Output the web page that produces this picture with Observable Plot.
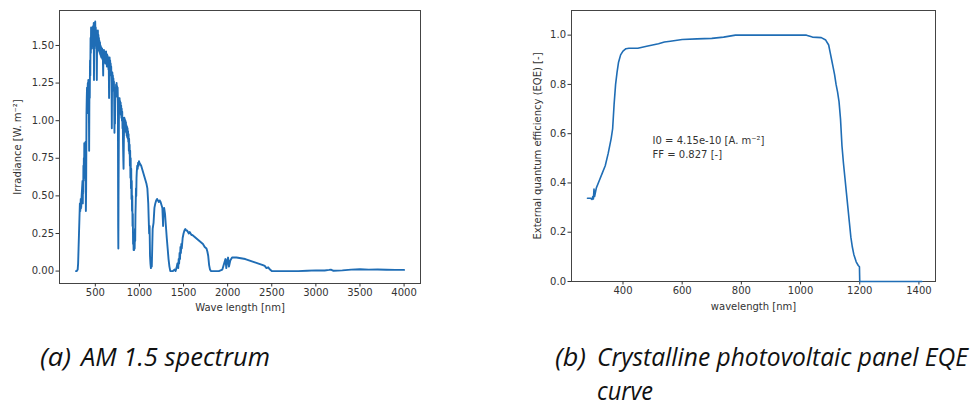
<!DOCTYPE html>
<html>
<head>
<meta charset="utf-8">
<script src="https://cdn.jsdelivr.net/npm/d3@7"></script>
<script src="https://cdn.jsdelivr.net/npm/@observablehq/plot@0.6"></script>
<style>
  html, body { margin: 0; padding: 0; background: #fff; }
  #wrap { position: relative; width: 971px; height: 408px; background: #fff; overflow: hidden; }
  .panel { position: absolute; top: 0; }
  .cap { position: absolute; font-family: "Open Sans", "Noto Sans", sans-serif; font-style: italic; font-size: 26px; color: #111; white-space: nowrap; line-height: 1; transform-origin: 0 50%; }
</style>
</head>
<body>
<div id="wrap">
  <div id="pa" class="panel" style="left:0px"></div>
  <div id="pb" class="panel" style="left:520px"></div>
  <div class="cap" data-w="31" style="left:40px; top:343px">(a)</div>
  <div class="cap" data-w="189" style="left:81px; top:343px">AM 1.5 spectrum</div>
  <div class="cap" data-w="31" style="left:555px; top:343px">(b)</div>
  <div class="cap" data-w="371" style="left:597px; top:343px">Crystalline photovoltaic panel EQE</div>
  <div class="cap" data-w="56" style="left:597px; top:377px">curve</div>
</div>
<script>
// ---- (a) AM 1.5 spectrum ----
const spectrumNm = [280,290,300,305,310,315,320,325,330,335,340,345,350,355,358,360,363,365,368,370,373,375,378,380,383,385,388,390,393,396,400,403,406,409,412,415,418,421,424,427,430,432,434,437,440,443,446,449,452,455,458,461,464,467,470,473,476,479,482,485,487,490,493,496,499,502,505,508,511,514,517,520,523,526,529,532,535,538,541,544,547,550,553,556,559,562,565,568,571,574,577,580,583,586,589,592,595,598,601,604,607,610,613,616,619,622,625,628,631,634,637,640,643,646,649,652,656,659,662,665,668,671,674,677,680,684,687,690,693,696,699,702,705,708,711,714,717,720,723,726,729,732,735,738,741,744,747,750,753,756,759,761,763,766,769,772,775,778,781,784,787,790,793,796,799,802,805,808,811,814,817,820,823,826,829,832,835,838,841,844,847,850,853,856,859,862,865,868,871,874,877,880,883,886,889,892,895,898,901,904,907,910,913,916,919,922,925,928,931,934,937,940,943,946,949,952,955,958,961,964,967,970,975,980,985,990,995,1000,1010,1020,1030,1040,1050,1060,1070,1080,1090,1100,1105,1110,1115,1120,1125,1130,1135,1140,1145,1150,1160,1170,1180,1190,1200,1210,1220,1230,1240,1250,1260,1265,1268,1272,1280,1290,1300,1310,1320,1330,1340,1350,1360,1380,1400,1410,1420,1430,1440,1445,1450,1455,1460,1465,1470,1475,1480,1490,1500,1510,1520,1530,1540,1550,1560,1570,1580,1590,1600,1620,1640,1660,1680,1700,1720,1740,1760,1770,1780,1790,1800,1810,1850,1900,1940,1960,1975,1985,1995,2005,2015,2030,2050,2100,2150,2200,2250,2300,2350,2400,2420,2440,2460,2480,2500,2600,2700,2800,2900,3000,3100,3150,3170,3200,3300,3400,3500,3600,3700,3800,3900,4000];
const spectrumIrr = [0,0,0.01,0.05,0.15,0.25,0.35,0.45,0.4,0.48,0.42,0.5,0.55,0.6,0.45,0.58,0.52,0.7,0.6,0.75,0.62,0.85,0.7,0.78,0.65,0.84,0.72,0.86,0.4,0.55,1.05,1.15,1.22,1.05,1.2,1.25,1.12,1.27,1.2,1.1,0.8,1.05,1.25,1.15,1.4,1.3,1.55,1.45,1.62,1.5,1.6,1.48,1.62,1.52,1.6,1.5,1.63,1.52,1.65,1.27,1.55,1.48,1.62,1.5,1.66,1.52,1.62,1.5,1.6,1.45,1.27,1.5,1.58,1.48,1.6,1.5,1.57,1.47,1.55,1.46,1.53,1.45,1.52,1.44,1.5,1.43,1.49,1.42,1.48,1.42,1.48,1.41,1.47,1.4,1.3,1.46,1.4,1.47,1.4,1.46,1.39,1.45,1.38,1.45,1.38,1.46,1.38,1.44,1.36,1.44,1.37,1.43,1.36,1.42,1.34,1.4,1.15,1.38,1.42,1.34,1.4,1.33,1.38,1.3,1.36,1.25,0.95,1.28,1.32,1.25,1.3,1.22,1.28,1.2,1.26,1.15,0.92,1.05,0.98,1.15,1.22,1.16,1.24,1.18,1.25,1.17,1.23,1.16,1.22,1.12,0.3,0.15,0.5,0.85,1.15,1.1,1.15,1.08,1.13,1.06,1.12,1.04,1.1,1.02,1.08,1.0,1.06,0.95,1.02,0.85,0.75,0.68,0.85,0.95,1.02,0.96,1.01,0.94,1.0,0.93,0.99,0.92,0.97,0.9,0.96,0.89,0.95,0.88,0.93,0.86,0.91,0.8,0.88,0.78,0.84,0.7,0.8,0.62,0.75,0.55,0.68,0.48,0.6,0.4,0.5,0.3,0.38,0.18,0.25,0.14,0.2,0.14,0.22,0.15,0.28,0.2,0.38,0.45,0.55,0.5,0.62,0.66,0.7,0.68,0.72,0.7,0.73,0.72,0.71,0.7,0.68,0.66,0.64,0.62,0.6,0.58,0.55,0.45,0.35,0.25,0.3,0.1,0.05,0.02,0.08,0.03,0.15,0.28,0.32,0.42,0.45,0.47,0.48,0.47,0.46,0.47,0.46,0.44,0.42,0.35,0.3,0.4,0.42,0.38,0.3,0.22,0.15,0.08,0.03,0,0,0,0.01,0,0.02,0.05,0.02,0.08,0.05,0.12,0.08,0.16,0.12,0.18,0.15,0.22,0.25,0.27,0.28,0.27,0.27,0.26,0.25,0.26,0.25,0.24,0.24,0.23,0.22,0.21,0.2,0.19,0.18,0.16,0.15,0.13,0.1,0.04,0.01,0,0,0,0.01,0.05,0.08,0.02,0.07,0.09,0.03,0.07,0.09,0.09,0.085,0.08,0.07,0.06,0.05,0.04,0.035,0.02,0.025,0.01,0,0,0,0,0.002,0.005,0.004,0.008,0.01,0.002,0.005,0.01,0.012,0.01,0.011,0.009,0.008,0.008];
const spectrumXTicks = [500,1000,1500,2000,2500,3000,3500,4000];
const spectrumYTicks = [0,0.25,0.5,0.75,1.0,1.25,1.5];

// ---- (b) EQE curve ----
const eqeNm = [280,290,295,298,300,302,304,310,320,330,340,350,360,365,370,375,380,385,392,400,410,420,450,480,500,520,540,560,600,650,700,740,760,780,850,1000,1020,1040,1070,1085,1095,1100,1105,1110,1115,1120,1125,1130,1135,1140,1145,1150,1155,1160,1165,1170,1175,1180,1188,1195,1199,1200,1300,1410];
const eqeVal = [0.338,0.338,0.333,0.345,0.335,0.375,0.345,0.38,0.41,0.44,0.47,0.52,0.58,0.62,0.72,0.8,0.85,0.89,0.92,0.935,0.945,0.947,0.947,0.955,0.96,0.965,0.972,0.975,0.982,0.985,0.987,0.992,0.996,1.0,1.0,1.0,1.0,0.992,0.99,0.98,0.96,0.93,0.9,0.87,0.84,0.8,0.77,0.73,0.66,0.55,0.48,0.42,0.36,0.3,0.24,0.18,0.14,0.11,0.08,0.065,0.06,0,0,0];
const eqeXTicks = [400,600,800,1000,1200,1400];
const eqeYTicks = [0,0.2,0.4,0.6,0.8,1.0];
const eqeNote = "I0 = 4.15e-10 [A. m\u207B\u00B2]\nFF = 0.827 [-]";

const lineColor = "#1f6db5";
const style = {fontFamily: "DejaVu Sans", fontSize: "10px", color: "#333", background: "white", overflow: "visible"};

const spec = spectrumNm.map((x, i) => ({x, y: spectrumIrr[i]}));
const eqe = eqeNm.map((x, i) => ({x, y: eqeVal[i]}));

const pa = Plot.plot({
  width: 430, height: 320,
  marginLeft: 59, marginRight: 10, marginTop: 10, marginBottom: 37,
  style,
  x: {domain: [94, 4186]},
  y: {domain: [-0.0825, 1.7325]},
  marks: [
    Plot.frame({stroke: "#444"}),
    Plot.axisX({ticks: spectrumXTicks, tickSize: 3.5, tickPadding: 2, tickFormat: d3.format("d"), label: null}),
    Plot.axisY({ticks: spectrumYTicks, tickSize: 3.5, tickPadding: 2, tickFormat: d3.format(".2f"), label: null}),
    Plot.line(spec, {x: "x", y: "y", stroke: lineColor, strokeWidth: 1.9}),
    Plot.text(["Wave length [nm]"], {frameAnchor: "bottom", dy: 24, lineAnchor: "middle", textAnchor: "middle", fill: "#333", fontSize: 10}),
    Plot.text(["Irradiance [W. m\u207B\u00B2]"], {frameAnchor: "left", dx: -42, rotate: -90, textAnchor: "middle", lineAnchor: "middle", fill: "#333", fontSize: 10})
  ]
});
document.getElementById("pa").appendChild(pa);

const pb = Plot.plot({
  width: 451, height: 320,
  marginLeft: 51, marginRight: 36, marginTop: 10, marginBottom: 39,
  style,
  x: {domain: [226, 1456]},
  y: {domain: [0, 1.1]},
  marks: [
    Plot.frame({stroke: "#444"}),
    Plot.axisX({ticks: eqeXTicks, tickSize: 3.5, tickPadding: 2, tickFormat: d3.format("d"), label: null}),
    Plot.axisY({ticks: eqeYTicks, tickSize: 3.5, tickPadding: 2, tickFormat: d3.format(".1f"), label: null}),
    Plot.line(eqe, {x: "x", y: "y", stroke: lineColor, strokeWidth: 1.6}),
    Plot.text([eqeNote], {x: () => 500, y: () => 0.5, textAnchor: "start", lineAnchor: "bottom", lineHeight: 1.4, fill: "#333", fontSize: 10}),
    Plot.text(["wavelength [nm]"], {frameAnchor: "bottom", dy: 25, lineAnchor: "middle", textAnchor: "middle", fill: "#333", fontSize: 10}),
    Plot.text(["External quantum efficiency (EQE) [-]"], {frameAnchor: "left", dx: -34, rotate: -90, textAnchor: "middle", lineAnchor: "middle", fill: "#333", fontSize: 10})
  ]
});
document.getElementById("pb").appendChild(pb);

// fit caption widths to the reference's widths
document.querySelectorAll(".cap").forEach(el => {
  const target = +el.dataset.w;
  const w = el.getBoundingClientRect().width;
  if (w > 0) el.style.transform = `scaleX(${target / w})`;
});
</script>
</body>
</html>
